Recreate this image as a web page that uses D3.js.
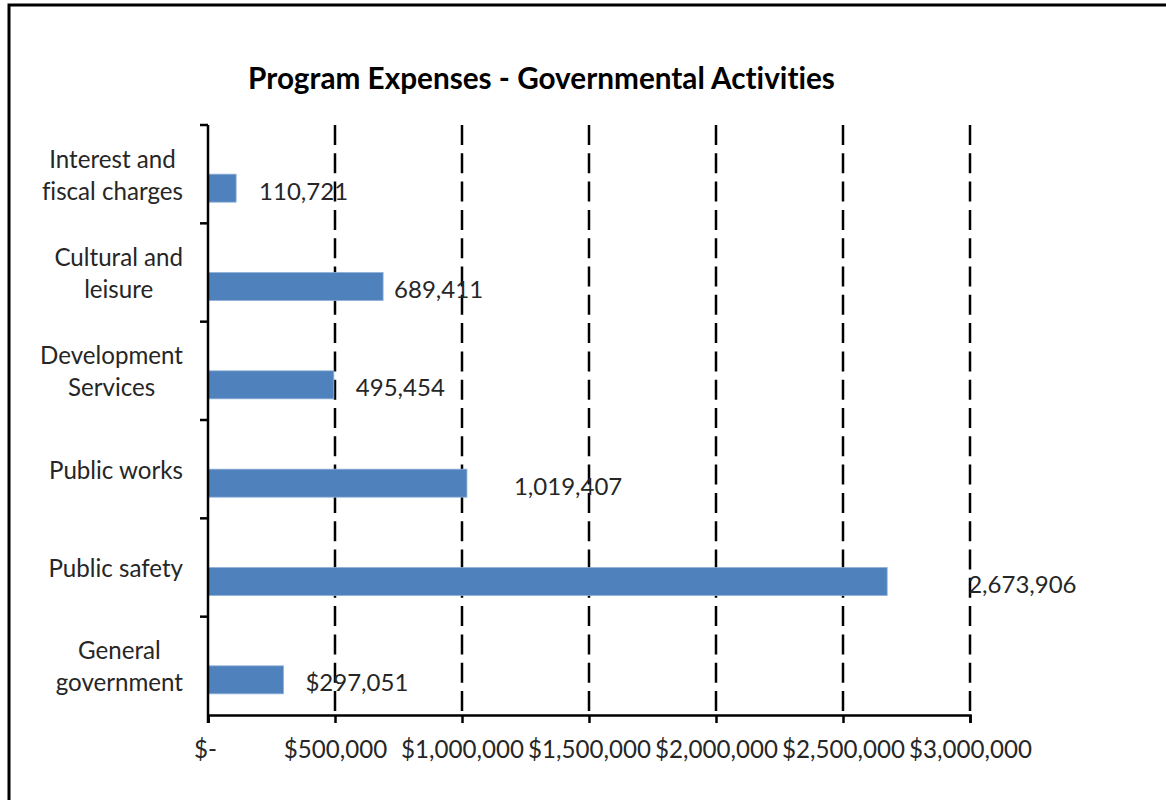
<!DOCTYPE html>
<html>
<head>
<meta charset="utf-8">
<script src="https://cdn.jsdelivr.net/npm/d3@7"></script>
<style>
  html, body { margin: 0; padding: 0; background: #fff; }
  text { font-family: Lato, "Open Sans", sans-serif; font-variant-ligatures: none; font-feature-settings: "liga" 0, "clig" 0; }
</style>
</head>
<body>
<svg id="chart" width="1166" height="800"></svg>
<script>
// ---- data (Excel order: bottom to top) ----
const categories = ["General government", "Public safety", "Public works",
                    "Development Services", "Cultural and leisure", "Interest and fiscal charges"];
const categoryLines = [["General", "government"], ["Public safety"], ["Public works"],
                       ["Development", "Services"], ["Cultural and", "leisure"], ["Interest and", "fiscal charges"]];
const values = [297051, 2673906, 1019407, 495454, 689411, 110721];
const valueLabels = ["$297,051", "2,673,906", "1,019,407", "495,454", "689,411", "110,721"];
const tickValues = [0, 500000, 1000000, 1500000, 2000000, 2500000, 3000000];
const tickLabels = ["$-", "$500,000", "$1,000,000", "$1,500,000", "$2,000,000", "$2,500,000", "$3,000,000"];
const titleText = "Program Expenses - Governmental Activities";
// label nudges (manual placement in the original)
const labelDx = [22, 81, 47, 22, 11, 23];

const svg = d3.select("#chart");
const W = 1166, H = 800;
const plot = { left: 208, right: 970, top: 125, bottom: 715 };
const textColor = "#262626";

svg.append("rect").attr("width", W).attr("height", H).attr("fill", "#fff");
// outer border (left & top visible)
svg.append("rect").attr("x", 9).attr("y", 5).attr("width", 1200).attr("height", 900)
  .attr("fill", "none").attr("stroke", "#000").attr("stroke-width", 3);

// helper to fit font size to a measured width
function fitSize(text, target, weight) {
  const t = svg.append("text").attr("font-size", 100).attr("font-weight", weight || "normal").text(text);
  const w = t.node().getComputedTextLength();
  t.remove();
  return 100 * target / w;
}
const titleSize = fitSize(titleText, 587, "bold");
const tickSize = fitSize("$1,000,000", 123);
const catSize = fitSize("Public works", 134);
const valSize = fitSize("110,721", 89);

const x = d3.scaleLinear().domain([0, 3000000]).range([plot.left, plot.right]);
const y = d3.scaleBand().domain(categories.slice().reverse()).range([plot.top, plot.bottom]).padding(0);
const bw = y.bandwidth();
const barH = 28;

// title
svg.append("text").attr("x", 541.5).attr("y", 89)
  .attr("text-anchor", "middle").attr("font-weight", "bold")
  .attr("font-size", titleSize).attr("fill", "#000").text(titleText);

// gridlines
svg.append("g").selectAll("line").data(tickValues.filter(d => d > 0)).join("line")
  .attr("x1", d => x(d)).attr("x2", d => x(d))
  .attr("y1", plot.top).attr("y2", plot.bottom)
  .attr("stroke", "#000").attr("stroke-width", 2.5).attr("stroke-dasharray", "20,8.3");

// bars
svg.append("g").selectAll("rect").data(categories).join("rect")
  .attr("x", x(0))
  .attr("y", d => y(d) + bw / 2)
  .attr("width", (d, i) => x(values[i]) - x(0))
  .attr("height", barH)
  .attr("fill", "#4F81BD")
  .attr("stroke", "#8FB0D8").attr("stroke-width", 0.8);

// value labels
svg.append("g").selectAll("text").data(categories).join("text")
  .attr("x", (d, i) => x(values[i]) + labelDx[i])
  .attr("y", d => y(d) + bw / 2 + barH / 2 + 2)
  .attr("dominant-baseline", "central")
  .attr("font-size", valSize).attr("fill", textColor)
  .text((d, i) => valueLabels[i]);

// x axis
const xAxis = d3.axisBottom(x).tickValues(tickValues).tickSize(8).tickPadding(18)
  .tickFormat((d, i) => tickLabels[i]);
const gx = svg.append("g").attr("transform", `translate(0,${plot.bottom})`).call(xAxis);
gx.select(".domain").attr("stroke", "#000").attr("stroke-width", 2.5);
gx.selectAll(".tick line").attr("stroke", "#000").attr("stroke-width", 2.5);
gx.selectAll(".tick text").attr("font-size", tickSize).attr("fill", textColor)
  .attr("font-family", "Lato, 'Open Sans', sans-serif");
gx.selectAll(".tick text").filter((d, i) => i === 0).attr("dx", -3);

// y axis (line + ticks at band boundaries)
const gy = svg.append("g");
gy.append("line").attr("x1", plot.left).attr("x2", plot.left)
  .attr("y1", plot.top).attr("y2", plot.bottom + 8)
  .attr("stroke", "#000").attr("stroke-width", 2.5);
const boundaries = categories.map(c => y(c));
gy.selectAll("line.tk").data(boundaries).join("line").attr("class", "tk")
  .attr("x1", plot.left - 8).attr("x2", plot.left)
  .attr("y1", d => d).attr("y2", d => d)
  .attr("stroke", "#000").attr("stroke-width", 2.5);

// category labels (wrapped, centered block right-aligned at 183)
const lineGap = 32;
categories.forEach((c, i) => {
  const lines = categoryLines[i];
  const g = svg.append("g");
  const texts = lines.map((l, k) => g.append("text")
    .attr("font-size", catSize).attr("fill", textColor)
    .attr("text-anchor", "middle").attr("dominant-baseline", "central")
    .attr("y", y(c) + bw / 2 + (k - (lines.length - 1) / 2) * lineGap)
    .text(l));
  const maxW = d3.max(texts, t => t.node().getComputedTextLength());
  texts.forEach(t => t.attr("x", 183 - maxW / 2));
});
</script>
</body>
</html>
